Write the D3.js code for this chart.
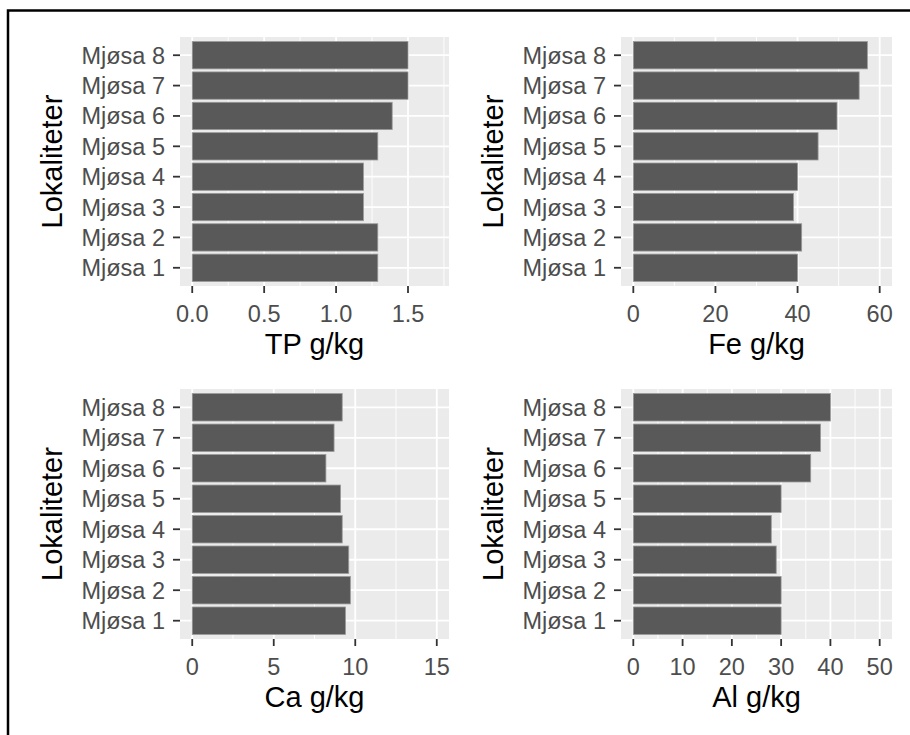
<!DOCTYPE html>
<html>
<head>
<meta charset="utf-8">
<script src="https://cdn.jsdelivr.net/npm/d3@7"></script>
<style>
    body { margin: 0; background: #fff; }
    svg text { font-family: "Liberation Sans", Arial, sans-serif; }
</style>
</head>
<body>
<div class="chart"></div>
<script>
// data
var sites = ["Mjøsa 1", "Mjøsa 2", "Mjøsa 3", "Mjøsa 4", "Mjøsa 5", "Mjøsa 6", "Mjøsa 7", "Mjøsa 8"];
var tpValues = [1.29, 1.29, 1.19, 1.19, 1.29, 1.39, 1.5, 1.5];
var feValues = [40, 41, 39, 40, 45, 49.6, 55, 57];
var caValues = [9.4, 9.7, 9.6, 9.2, 9.1, 8.2, 8.7, 9.2];
var alValues = [30, 30, 29, 28, 30, 36, 38, 40];

var tpTicks = [0, 0.5, 1.0, 1.5];
var feTicks = [0, 20, 40, 60];
var caTicks = [0, 5, 10, 15];
var alTicks = [0, 10, 20, 30, 40, 50];

var svgWidth = 910;
var svgHeight = 735;

var svg = d3.select(".chart")
    .append("svg")
    .attr("width", svgWidth)
    .attr("height", svgHeight);

// frame (only left and top edges visible in the reference)
svg.append("path")
    .attr("d", "M8,735 V10.5 H910")
    .attr("fill", "none")
    .attr("stroke", "#000")
    .attr("stroke-width", 2.5);

function drawPanel(box, values, ticks, upper, fmt, title) {
    var g = svg.append("g")
        .attr("transform", `translate(${box.x}, ${box.y})`);

    // ggplot style 5% expansion
    var x = d3.scaleLinear()
        .domain([-0.05 * upper, 1.05 * upper])
        .range([0, box.w]);

    var y = d3.scaleBand()
        .domain(sites.slice().reverse())
        .range([0, box.h])
        .paddingInner(0.1)
        .paddingOuter(0.15);

    g.append("rect")
        .attr("width", box.w)
        .attr("height", box.h)
        .attr("fill", "#ebebeb");

    // minor grid
    var step = ticks[1] - ticks[0];
    var minor = [];
    for (var i = 0; i < ticks.length; i++) {
        var m = ticks[i] + step / 2;
        if (x(m) < box.w) minor.push(m);
    }
    g.selectAll(".minor")
        .data(minor)
        .enter()
        .append("line")
        .attr("x1", d => x(d))
        .attr("x2", d => x(d))
        .attr("y1", 0)
        .attr("y2", box.h)
        .attr("stroke", "#fff")
        .attr("stroke-width", 0.9);

    // major grid
    g.selectAll(".vmajor")
        .data(ticks)
        .enter()
        .append("line")
        .attr("x1", d => x(d))
        .attr("x2", d => x(d))
        .attr("y1", 0)
        .attr("y2", box.h)
        .attr("stroke", "#fff")
        .attr("stroke-width", 1.8);

    g.selectAll(".hmajor")
        .data(sites)
        .enter()
        .append("line")
        .attr("x1", 0)
        .attr("x2", box.w)
        .attr("y1", d => y(d) + y.bandwidth() / 2)
        .attr("y2", d => y(d) + y.bandwidth() / 2)
        .attr("stroke", "#fff")
        .attr("stroke-width", 1.8);

    // bars
    g.selectAll(".bar")
        .data(values)
        .enter()
        .append("rect")
        .attr("x", x(0))
        .attr("y", (d, i) => y(sites[i]))
        .attr("width", d => x(d) - x(0))
        .attr("height", y.bandwidth())
        .attr("fill", "#595959")
        .attr("stroke", "#9a9a9a")
        .attr("stroke-width", 0.8);

    // x axis
    var xAxis = g.append("g")
        .attr("transform", `translate(0, ${box.h})`);
    xAxis.selectAll("line")
        .data(ticks)
        .enter()
        .append("line")
        .attr("x1", d => x(d))
        .attr("x2", d => x(d))
        .attr("y1", 0)
        .attr("y2", 7)
        .attr("stroke", "#333")
        .attr("stroke-width", 1.8);
    xAxis.selectAll("text")
        .data(ticks)
        .enter()
        .append("text")
        .attr("x", d => x(d))
        .attr("y", 36)
        .attr("text-anchor", "middle")
        .attr("font-size", "23.5px")
        .attr("fill", "#4d4d4d")
        .text(d => d3.format(fmt)(d));

    // y axis
    var yAxis = g.append("g");
    yAxis.selectAll("line")
        .data(sites)
        .enter()
        .append("line")
        .attr("x1", -7)
        .attr("x2", 0)
        .attr("y1", d => y(d) + y.bandwidth() / 2)
        .attr("y2", d => y(d) + y.bandwidth() / 2)
        .attr("stroke", "#333")
        .attr("stroke-width", 1.8);
    yAxis.selectAll("text")
        .data(sites)
        .enter()
        .append("text")
        .attr("x", -15)
        .attr("y", d => y(d) + y.bandwidth() / 2)
        .attr("dy", "0.36em")
        .attr("text-anchor", "end")
        .attr("font-size", "23.5px")
        .attr("fill", "#4d4d4d")
        .text(d => d);

    // titles
    g.append("text")
        .attr("x", box.w / 2)
        .attr("y", box.h + 68)
        .attr("text-anchor", "middle")
        .attr("font-size", "29px")
        .attr("fill", "#000")
        .text(title);

    g.append("text")
        .attr("transform", "rotate(-90)")
        .attr("x", -box.h / 2)
        .attr("y", box.ytitle)
        .attr("text-anchor", "middle")
        .attr("font-size", "29px")
        .attr("fill", "#000")
        .text("Lokaliteter");
}

drawPanel({x: 180, y: 37, w: 269, h: 249, ytitle: -118.5}, tpValues, tpTicks, 1.7, ".1f", "TP g/kg");
drawPanel({x: 621, y: 37, w: 271, h: 249, ytitle: -118}, feValues, feTicks, 60, "d", "Fe g/kg");
drawPanel({x: 180, y: 389, w: 269, h: 250, ytitle: -118.5}, caValues, caTicks, 15, "d", "Ca g/kg");
drawPanel({x: 621, y: 389, w: 271, h: 250, ytitle: -118}, alValues, alTicks, 50, "d", "Al g/kg");
</script>
</body>
</html>
